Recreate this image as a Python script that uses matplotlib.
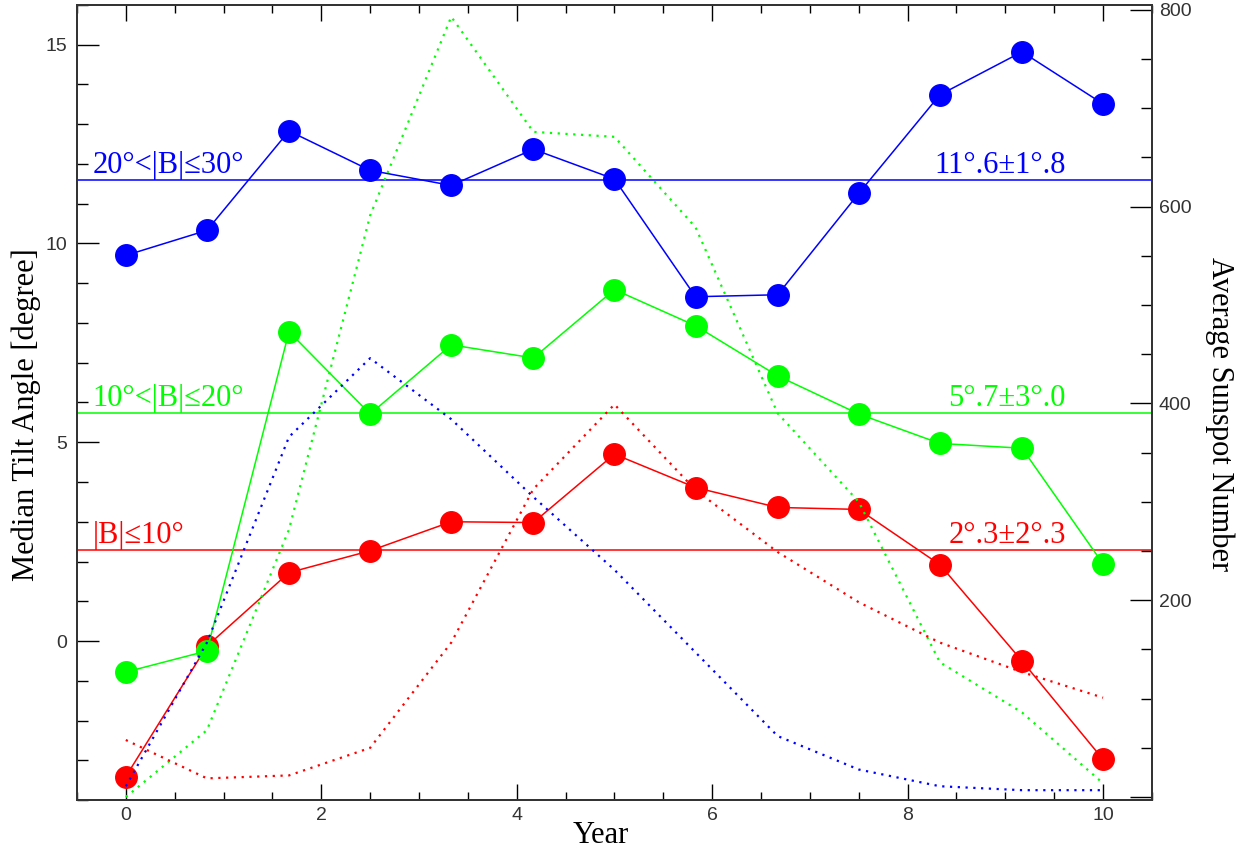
import matplotlib
matplotlib.use('Agg')
import matplotlib.pyplot as plt
from matplotlib.ticker import MultipleLocator, FuncFormatter

# year bins of the cycle
years = [0, 0.83, 1.67, 2.5, 3.33, 4.17, 5, 5.83, 6.67, 7.5, 8.33, 9.17, 10]

# median tilt angle per latitude band
tilt_high = [9.70, 10.33, 12.83, 11.84, 11.46, 12.37, 11.62, 8.66, 8.71, 11.26, 13.74, 14.82, 13.51]
tilt_mid = [-0.78, -0.25, 7.78, 5.71, 7.45, 7.12, 8.84, 7.93, 6.67, 5.71, 4.97, 4.85, 1.94]
tilt_low = [-3.41, -0.13, 1.72, 2.27, 3.00, 2.98, 4.70, 3.86, 3.36, 3.31, 1.92, -0.50, -2.98]

# mean values (horizontal lines)
mean_high, mean_mid, mean_low = 11.6, 5.73, 2.3
band_labels = ['20°<|B|≤30°', '10°<|B|≤20°', '|B|≤10°']
mean_labels = ['11°.6±1°.8', '5°.7±3°.0', '2°.3±2°.3']

# average sunspot number per band (right axis)
ssn_high = [11, 157, 366, 446, 384, 305, 231, 147, 62, 28, 11, 7, 7]
ssn_mid = [0, 68, 272, 591, 793, 676, 671, 579, 390, 300, 137, 86, 14]
ssn_low = [58, 19, 22, 50, 157, 313, 399, 312, 249, 198, 157, 127, 101]

BLUE, GREEN, RED = '#0000ff', '#00ff00', '#ff0000'

fig = plt.figure(figsize=(12.49, 8.55), dpi=100)
ax = fig.add_axes([0.0616, 0.0643, 0.8607, 0.9299])
ax2 = ax.twinx()

# tilt angle curves
for vals, c in [(tilt_high, BLUE), (tilt_low, RED), (tilt_mid, GREEN)]:
    ax.plot(years, vals, color=c, lw=1.1, marker='o', ms=15.5, mec=c, mfc=c, zorder=3)

# mean lines + labels
for m, c, lab, txt in zip([mean_high, mean_mid, mean_low], [BLUE, GREEN, RED], band_labels, mean_labels):
    ax.axhline(m, color=c, lw=1.1, zorder=2)
    ax.annotate(lab, (-0.34, m), xytext=(0, 5), textcoords='offset points',
                color=c, fontsize=22, family='Liberation Serif', ha='left', va='baseline')
    ax.annotate(txt, (9.62, m), xytext=(0, 5), textcoords='offset points',
                color=c, fontsize=22, family='Liberation Serif', ha='right', va='baseline')

# sunspot curves (dotted)
for vals, c in [(ssn_high, BLUE), (ssn_mid, GREEN), (ssn_low, RED)]:
    ax2.plot(years, vals, color=c, lw=1.6, linestyle=(0, (1, 2.5)))

ax.set_xlim(-0.5, 10.5)
ax.set_ylim(-4, 16)
ax2.set_ylim(-3, 805)

ax.xaxis.set_major_locator(MultipleLocator(2))
ax.xaxis.set_minor_locator(MultipleLocator(0.5))
ax.yaxis.set_major_locator(MultipleLocator(5))
ax.yaxis.set_minor_locator(MultipleLocator(1))
ax2.yaxis.set_major_locator(MultipleLocator(200))
ax2.yaxis.set_minor_locator(MultipleLocator(50))
ax2.yaxis.set_major_formatter(FuncFormatter(lambda v, p: '' if v < 1 else f'{v:.0f}'))

ax.tick_params(axis='x', which='major', direction='in', length=11.5, width=1, top=True, pad=5, labelsize=14)
ax.tick_params(axis='x', which='minor', direction='in', length=6, width=1, top=True)
ax.tick_params(axis='y', which='major', direction='in', length=15.5, width=1, right=False, pad=7, labelsize=14)
ax.tick_params(axis='y', which='minor', direction='in', length=8, width=1, right=False)
ax2.tick_params(axis='y', which='major', direction='in', length=15.5, width=1, pad=5, labelsize=14)
ax2.tick_params(axis='y', which='minor', direction='in', length=8, width=1)

for a in (ax, ax2):
    for lbl in a.get_xticklabels() + a.get_yticklabels():
        lbl.set_family('Liberation Sans')
        lbl.set_color('#333333')
    for s in a.spines.values():
        s.set_linewidth(1.3)
        s.set_color('#333333')

ax.set_xlabel('Year', fontsize=22, family='Liberation Serif')
ax.xaxis.set_label_coords(0.487, -0.027)
ax.set_ylabel('Median Tilt Angle [degree]', fontsize=22, family='Liberation Serif')
ax.yaxis.set_label_coords(-0.033, 0.485)
ax2.set_ylabel('Average Sunspot Number', fontsize=22, family='Liberation Serif', rotation=270, va='bottom')
ax2.yaxis.set_label_coords(1.049, 0.485)

fig.savefig('out.png', dpi=100)
